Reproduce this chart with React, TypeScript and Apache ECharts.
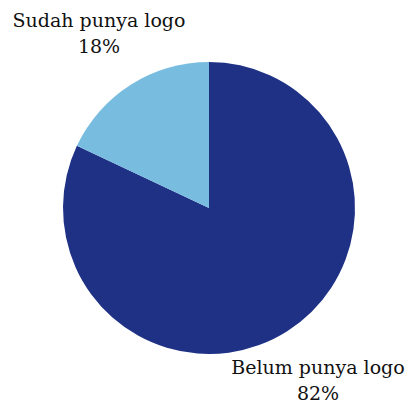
import React, { useEffect, useRef } from "react";
import * as echarts from "echarts";

const categories = ["Belum punya logo", "Sudah punya logo"];
const values = [82, 18];
const colors = ["#1e3185", "#78bde0"];

export default function App() {
  const ref = useRef<HTMLDivElement>(null);
  useEffect(() => {
    document.body.style.margin = "0";
    document.body.style.overflow = "hidden";
    const chart = echarts.init(ref.current!, null, { renderer: "svg" });
    const labelPos = [
      { x: 318, y: 380 },
      { x: 99, y: 33 },
    ];
    chart.setOption({
      animation: false,
      backgroundColor: "#ffffff",
      series: [
        {
          type: "pie",
          center: [209, 208],
          radius: [0, 146],
          startAngle: 90,
          clockwise: true,
          data: categories.map((c, i) => ({
            name: c,
            value: values[i],
            itemStyle: { color: colors[i] },
          })),
          label: {
            show: true,
            position: "outside",
            formatter: "{b}\n{c}%",
            fontFamily: "DejaVu Serif",
            fontSize: 19,
            lineHeight: 26,
            color: "#111111",
            align: "center",
            overflow: "none",
            width: 300,
          },
          labelLine: { show: false },
          labelLayout: (params: any) => ({
            x: labelPos[params.dataIndex].x,
            y: labelPos[params.dataIndex].y,
            align: "center",
            verticalAlign: "middle",
          }),
        },
      ],
    });
    return () => chart.dispose();
  }, []);
  return <div ref={ref} style={{ width: 406, height: 405 }} />;
}
